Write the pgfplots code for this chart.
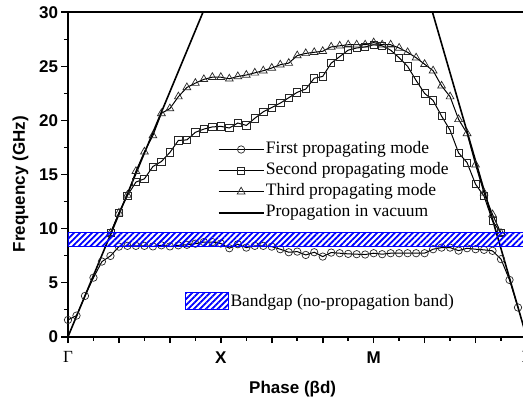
\documentclass[border=0pt]{standalone}
\usepackage{fontspec}
\setmainfont{Liberation Serif}
\setsansfont{Liberation Sans}
\usepackage{pgfplots}
\pgfplotsset{compat=1.18}
\usetikzlibrary{patterns.meta}
\begin{document}
\begin{tikzpicture}
\begin{axis}[
  at={(0,0)}, anchor=south west,
  scale only axis, width=458.5pt, height=324.4pt,
  xmin=0, xmax=3, ymin=0, ymax=30,
  axis line style={line width=1.6pt},
  tick pos=left, tick align=outside,
  major tick length=6.5pt, minor tick length=4pt,
  every tick/.style={line width=1.6pt, black},
  xtick={0,0.33333,0.66667,1,1.33333,1.66667,2,2.33333,2.66667,3},
  xticklabels={{\rmfamily\mdseries Γ},,,X,,,M,,,{\rmfamily\mdseries Γ}},
  minor xtick={0.16667,0.5,0.83333,1.16667,1.5,1.83333,2.16667,2.5,2.83333},
  ytick={0,5,10,15,20,25,30}, minor ytick={2.5,7.5,12.5,17.5,22.5,27.5},
  /pgf/number format/assume math mode=true,
  ticklabel style={font=\sffamily\bfseries\fontsize{17}{20}\selectfont},
  xticklabel style={yshift=-5pt},
  xlabel={Phase (βd)}, ylabel={Frequency (GHz)},
  label style={font=\sffamily\bfseries\fontsize{17}{20}\selectfont},
  xlabel style={at={(axis description cs:0.49,-0.1745)}, anchor=base},
  ylabel style={at={(axis description cs:-0.0938,0.47)}, anchor=base, rotate=0},
  legend cell align=left,
  legend style={draw=none, fill=none, font=\rmfamily\fontsize{17.5}{20}\selectfont,
    at={(axis cs:0.979,18.07)}, anchor=north west, inner sep=0pt, row sep=5.1pt,
    nodes={inner xsep=1.5pt, inner ysep=0pt, text height=12pt, text depth=4pt}},
  legend image code/.code={\draw[mark repeat=2,mark phase=2,#1] plot coordinates {(0pt,0pt) (22.5pt,0pt) (45pt,0pt)};},
  every axis plot/.append style={line width=1pt, black},
]
% First propagating mode
\addplot[mark=o, mark size=3.7pt, mark options={draw=black!85, fill=white, line width=0.7pt}] coordinates {
(0.0000,1.55) (0.0556,1.95) (0.1111,3.77) (0.1667,5.46) (0.2222,6.95) (0.2778,7.47)
(0.3333,8.33) (0.3889,8.40) (0.4444,8.40) (0.5000,8.40) (0.5556,8.35) (0.6111,8.45)
(0.6667,8.35) (0.7222,8.45) (0.7778,8.50) (0.8333,8.60) (0.8889,8.75) (0.9444,8.75)
(1.0000,8.62) (1.0556,8.18) (1.1111,8.55) (1.1667,8.24) (1.2222,8.40) (1.2778,8.40)
(1.3333,8.33) (1.3889,8.09) (1.4444,7.81) (1.5000,7.87) (1.5556,7.56) (1.6111,7.81)
(1.6667,7.41) (1.7222,7.78) (1.7778,7.72) (1.8333,7.66) (1.8889,7.63) (1.9444,7.60)
(2.0000,7.72) (2.0556,7.63) (2.1111,7.72) (2.1667,7.72) (2.2222,7.72) (2.2778,7.72)
(2.3333,7.72) (2.3889,8.09) (2.4444,8.24) (2.5000,8.24) (2.5556,7.96) (2.6111,8.18)
(2.6667,8.09) (2.7222,8.03) (2.7778,7.94) (2.8333,7.17) (2.8889,5.25) (2.9444,2.70)
};
\addlegendentry{First propagating mode}
% Second propagating mode
\addplot[mark=square, mark size=3.6pt, mark options={draw=black!85, fill=white, line width=0.7pt}] coordinates {
(0.2778,9.57) (0.3333,11.45) (0.3889,13.06) (0.4444,14.30) (0.5000,14.60) (0.5556,15.74)
(0.6111,16.20) (0.6667,17.04) (0.7222,18.15) (0.7778,18.20) (0.8333,18.90) (0.8889,19.20)
(0.9444,19.40) (1.0000,19.45) (1.0556,19.30) (1.1111,19.76) (1.1667,19.54) (1.2222,20.20)
(1.2778,20.80) (1.3333,21.20) (1.3889,21.60) (1.4444,22.10) (1.5000,22.60) (1.5556,22.90)
(1.6111,23.90) (1.6667,24.07) (1.7222,25.30) (1.7778,25.90) (1.8333,26.50) (1.8889,26.70)
(1.9444,26.80) (2.0000,27.00) (2.0556,26.90) (2.1111,26.50) (2.1667,25.80) (2.2222,25.00)
(2.2778,23.70) (2.3333,22.50) (2.3889,21.85) (2.4444,20.40) (2.5000,19.10) (2.5556,17.00)
(2.6111,16.10) (2.6667,14.10) (2.7222,13.00) (2.7778,10.70) (2.8333,9.57)
};
\addlegendentry{Second propagating mode}
% Third propagating mode
\addplot[mark=triangle, mark size=4.5pt, mark options={draw=black!85, fill=white, line width=0.7pt}] coordinates {
(0.2778,9.57) (0.3333,11.45) (0.3889,13.10) (0.4444,15.30) (0.5000,17.10) (0.5556,18.60)
(0.6111,20.65) (0.6667,21.10) (0.7222,22.20) (0.7778,23.05) (0.8333,23.45) (0.8889,23.80)
(0.9444,24.00) (1.0000,24.00) (1.0556,23.85) (1.1111,24.07) (1.1667,24.20) (1.2222,24.40)
(1.2778,24.60) (1.3333,24.85) (1.3889,25.15) (1.4444,25.30) (1.5000,26.00) (1.5556,26.20)
(1.6111,26.30) (1.6667,26.40) (1.7222,26.80) (1.7778,26.90) (1.8333,27.00) (1.8889,27.00)
(1.9444,27.00) (2.0000,27.20) (2.0556,27.00) (2.1111,27.00) (2.1667,26.70) (2.2222,26.30)
(2.2778,25.80) (2.3333,25.20) (2.3889,24.60) (2.4444,23.20) (2.5000,22.20) (2.5556,20.10)
(2.6111,18.80) (2.6667,15.90) (2.7222,13.30) (2.7778,11.30) (2.8333,9.57)
};
\addlegendentry{Third propagating mode}
% Propagation in vacuum
\addplot[line width=1.6pt, no marks] coordinates {(0,0) (0.883,30)};
\addlegendentry{Propagation in vacuum}
\addplot[line width=1.6pt, no marks, forget plot] coordinates {(3,0) (2.385,30)};
\end{axis}
\begin{axis}[
  at={(0,0)}, anchor=south west,
  scale only axis, width=458.5pt, height=324.4pt,
  xmin=0, xmax=3, ymin=0, ymax=30, hide axis,
  legend cell align=left,
  legend style={draw=none, fill=none, font=\rmfamily\fontsize{17.5}{20}\selectfont,
    at={(axis cs:0.763,3.28)}, anchor=west, inner sep=0pt,
    nodes={inner xsep=1.5pt, inner ysep=2pt}},
  legend image code/.code={\draw[draw=blue, line width=1.2pt, pattern={Lines[angle=45,distance=4.2pt,line width=1.8pt]}, pattern color=blue] (0pt,-8.5pt) rectangle (43pt,8.5pt);},
]
\addplot[draw=blue, line width=1.2pt, pattern={Lines[angle=45,distance=4.2pt,line width=1.8pt]}, pattern color=blue] coordinates {(0,8.33) (3,8.33) (3,9.65) (0,9.65) (0,8.33)};
\addlegendentry{Bandgap (no-propagation band)}
\end{axis}
\pgfresetboundingbox
\path[use as bounding box] (-68pt,-65.3pt) rectangle (455pt,336.7pt);
\end{tikzpicture}
\end{document}
